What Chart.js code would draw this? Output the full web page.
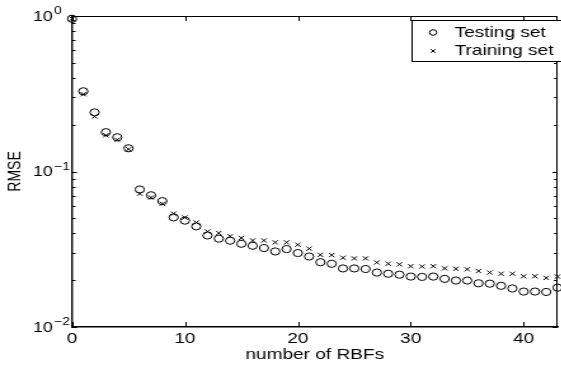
<!DOCTYPE html>
<html>
<head>
<meta charset="utf-8">
<script src="https://cdn.jsdelivr.net/npm/chart.js@4/dist/chart.umd.min.js"></script>
<style>
  html, body { margin: 0; padding: 0; background: #fff; overflow: hidden; }
  /* the original figure is stretched sideways, so the whole canvas is too */
  #wrap { width: 444px; height: 368px; transform: scaleX(1.27); transform-origin: 0 0; }
</style>
</head>
<body>
<div id="wrap"><canvas id="rmseChart" width="444" height="368"></canvas></div>
<script>
// number of RBFs on the x axis
const rbfCounts = [0, 1, 2, 3, 4, 5, 6, 7, 8, 9, 10, 11, 12, 13, 14, 15, 16, 17, 18, 19, 20, 21,
  22, 23, 24, 25, 26, 27, 28, 29, 30, 31, 32, 33, 34, 35, 36, 37, 38, 39, 40, 41, 42, 43]

// RMSE
const testingRmse = [0.96, 0.328, 0.240, 0.179, 0.166, 0.141, 0.0766, 0.0703, 0.0645, 0.0507,
  0.0483, 0.0444, 0.0388, 0.0370, 0.0359, 0.0343, 0.0333, 0.0322, 0.0306, 0.0317, 0.0299,
  0.0284, 0.0261, 0.0255, 0.0238, 0.0238, 0.0236, 0.0224, 0.0220, 0.0217, 0.0211, 0.0210,
  0.0211, 0.0204, 0.0199, 0.0199, 0.0191, 0.0190, 0.0184, 0.0177, 0.0169, 0.0169, 0.0168, 0.0179]

const trainingRmse = [0.96, 0.314, 0.226, 0.171, 0.160, 0.139, 0.0720, 0.0680, 0.0620, 0.0536,
  0.0506, 0.0470, 0.0411, 0.0402, 0.0383, 0.0374, 0.0360, 0.0360, 0.0350, 0.0350, 0.0338,
  0.0319, 0.0291, 0.0290, 0.0279, 0.0276, 0.0276, 0.0260, 0.0255, 0.0253, 0.0246, 0.0245,
  0.0246, 0.0238, 0.0237, 0.0235, 0.0229, 0.0224, 0.0220, 0.0220, 0.0212, 0.0212, 0.0207, 0.0211]

const seriesLabels = ["Testing set", "Training set"]
const xTickValues = [0, 10, 20, 30, 40]
const yTickValues = [1, 0.1, 0.01]
const yTickExponents = ["0", "\u22121", "\u22122"]

const FONT = "'Liberation Sans', Arial, Helvetica, sans-serif"
Chart.defaults.font.family = FONT
Chart.defaults.color = "#000"

// box, inward ticks, y labels with superscripts and the legend
const matlabAxes = {
  id: "matlabAxes",
  afterDatasetsDraw(chart) {
    const { ctx, chartArea, scales } = chart
    const { left, right, top, bottom } = chartArea
    const x = scales.x
    const y = scales.y

    ctx.save()
    ctx.strokeStyle = "#000"
    ctx.lineWidth = 1
    ctx.beginPath()
    ctx.moveTo(left, top + 0.5)
    ctx.lineTo(right, top + 0.5)
    ctx.moveTo(right - 0.5, top)
    ctx.lineTo(right - 0.5, bottom)

    xTickValues.forEach((v) => {
      const px = Math.round(x.getPixelForValue(v)) + 0.5
      ctx.moveTo(px, bottom)
      ctx.lineTo(px, bottom - 5)
      ctx.moveTo(px, top)
      ctx.lineTo(px, top + 5)
    })

    yTickValues.forEach((decade) => {
      const py = Math.round(y.getPixelForValue(decade)) + 0.5
      ctx.moveTo(left, py)
      ctx.lineTo(left + 4, py)
      ctx.moveTo(right, py)
      ctx.lineTo(right - 4, py)
      if (decade >= 1) return
      for (let m = 2; m <= 9; m++) {
        const my = Math.round(y.getPixelForValue(decade * m)) + 0.5
        ctx.moveTo(left, my)
        ctx.lineTo(left + 2.8, my)
        ctx.moveTo(right, my)
        ctx.lineTo(right - 2.8, my)
      }
    })
    ctx.stroke()

    // y tick labels: 10 with the exponent raised
    ctx.fillStyle = "#000"
    ctx.textAlign = "left"
    ctx.textBaseline = "middle"
    yTickValues.forEach((v, i) => {
      const py = y.getPixelForValue(v)
      ctx.font = "14px " + FONT
      ctx.fillText("10", 26, py + 1)
      const w = ctx.measureText("10").width
      ctx.font = "11px " + FONT
      ctx.fillText(yTickExponents[i], 26 + w + 1, py - 5)
    })

    // legend box in the top right corner
    const boxLeft = 324.5
    const boxTop = 20.5
    const boxBottom = 61.5
    ctx.fillStyle = "#fff"
    ctx.fillRect(boxLeft, boxTop, right + 10 - boxLeft, boxBottom - boxTop)
    ctx.strokeRect(boxLeft, boxTop, right + 10 - boxLeft, boxBottom - boxTop)

    const rows = [32.5, 51]
    chart.data.datasets.forEach((ds, i) => {
      Chart.helpers.drawPoint(ctx, {
        pointStyle: ds.pointStyle,
        radius: i === 0 ? 2.8 : 2.5,
        borderWidth: 1,
      }, 341, rows[i])
      ctx.fillStyle = "#000"
      ctx.font = "15px " + FONT
      ctx.textBaseline = "middle"
      ctx.fillText(ds.label, 358, rows[i])
    })
    ctx.restore()
  },
}

const ctx = document.getElementById("rmseChart").getContext("2d")
new Chart(ctx, {
  type: "scatter",
  data: {
    datasets: [
      {
        label: seriesLabels[0],
        data: rbfCounts.map((n, i) => ({ x: n, y: testingRmse[i] })),
        pointStyle: "circle",
        pointRadius: 3.6,
        pointBorderWidth: 1,
        pointBorderColor: "#000",
        pointBackgroundColor: "rgba(0,0,0,0)",
        clip: false,
      },
      {
        label: seriesLabels[1],
        data: rbfCounts.map((n, i) => ({ x: n, y: trainingRmse[i] })),
        pointStyle: "crossRot",
        pointRadius: 3,
        pointBorderWidth: 1,
        pointBorderColor: "#000",
        clip: false,
      },
    ],
  },
  options: {
    responsive: false,
    animation: false,
    layout: { padding: { top: 16, right: 0, bottom: 0, left: 0 } },
    plugins: {
      legend: { display: false },
      tooltip: { enabled: false },
    },
    scales: {
      x: {
        type: "linear",
        min: 0,
        max: 43,
        afterBuildTicks: (scale) => {
          scale.ticks = xTickValues.map((v) => ({ value: v }))
        },
        afterFit: (scale) => {
          scale.height = 41
        },
        grid: { display: false, drawTicks: false },
        border: { color: "#000", width: 1.4 },
        ticks: { font: { size: 15 }, padding: 3, maxRotation: 0 },
        title: {
          display: true,
          text: "number of RBFs",
          font: { size: 15 },
          padding: { top: 0, bottom: 4 },
        },
      },
      y: {
        type: "logarithmic",
        min: 0.01,
        max: 1,
        afterFit: (scale) => {
          scale.width = 56.7
        },
        grid: { display: false, drawTicks: false },
        border: { color: "#000", width: 1.4 },
        ticks: { display: false },
        title: {
          display: true,
          text: "RMSE",
          font: { size: 14 },
          padding: { top: 4, bottom: 0 },
        },
      },
    },
  },
  plugins: [matlabAxes],
})
</script>
</body>
</html>
